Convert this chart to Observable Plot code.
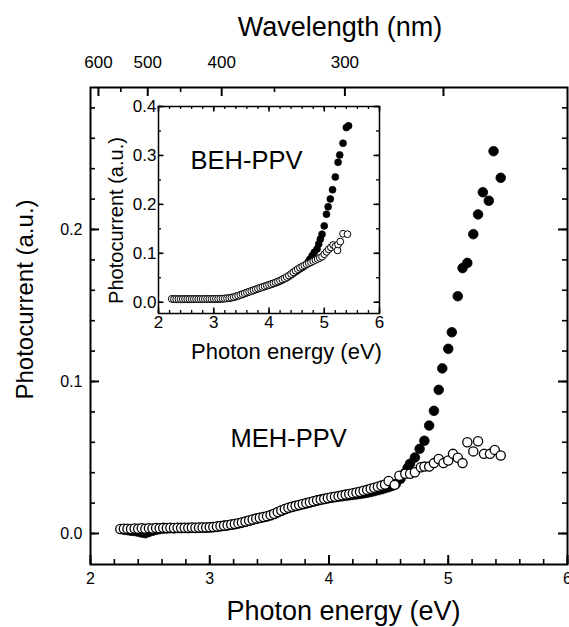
<!DOCTYPE html>
<html><head><meta charset="utf-8">
<script src="https://cdn.jsdelivr.net/npm/d3@7"></script>
<script src="https://cdn.jsdelivr.net/npm/@observablehq/plot@0.6"></script>
<style>
html,body{margin:0;padding:0;background:#fff;}
#wrap{position:relative;width:569px;height:627px;overflow:hidden;background:#fff;}
#wrap svg{position:absolute;}
</style></head><body><div id="wrap"></div>
<script>
// ---- MEH-PPV (main plot) ----
const mehOpenE = [2.25,2.28,2.31,2.34,2.37,2.40,2.43,2.46,2.49,2.52,
 2.55,2.58,2.61,2.64,2.67,2.70,2.73,2.76,2.79,2.82,
 2.85,2.88,2.91,2.94,2.97,3.00,3.03,3.06,3.09,3.12,
 3.15,3.18,3.21,3.24,3.27,3.30,3.33,3.36,3.39,3.42,
 3.45,3.48,3.51,3.54,3.57,3.60,3.63,3.66,3.69,3.72,
 3.75,3.78,3.81,3.84,3.87,3.90,3.93,3.96,3.99,4.02,
 4.05,4.08,4.11,4.14,4.17,4.20,4.23,4.26,4.29,4.32,
 4.35,4.38,4.41,4.44,4.47,4.50,
 4.55,4.59,4.64,4.68,4.72,4.77,4.80,4.84,4.88,4.92,4.96,5.00,5.04,5.08,5.12,5.16,5.21,5.25,5.30,5.35,5.39,5.44];
const mehOpenI = [.0030,.0031,.0032,.0030,.0033,.0031,.0034,.0032,.0035,.0033,
 .0036,.0035,.0037,.0036,.0038,.0036,.0038,.0037,.0038,.0037,
 .0039,.0038,.0039,.0040,.0040,.0041,.0043,.0046,.0049,.0052,
 .0055,.0059,.0063,.0068,.0073,.0079,.0085,.0092,.0098,.0104,
 .0109,.0114,.0121,.0130,.0141,.0151,.0161,.0169,.0176,.0182,
 .0188,.0194,.0200,.0206,.0212,.0218,.0223,.0228,.0233,.0238,
 .0242,.0246,.0251,.0256,.0260,.0265,.0270,.0275,.0281,.0287,
 .0294,.0301,.0308,.0315,.0322,.0345,
 .0320,.0380,.0393,.0393,.0403,.0436,.0440,.0440,.0463,.0490,.0463,.0480,.0524,.0498,.0463,.0600,.0540,.0607,.0524,.0524,.0550,.0513];
const mehFilledE = [2.28,2.31,2.34,2.37,2.40,2.43,2.46,2.49,2.52,2.55,
 2.58,2.61,2.64,2.67,2.70,2.73,2.76,2.79,2.82,2.85,
 2.88,2.91,2.94,2.97,3.00,3.03,3.06,3.09,3.12,3.15,
 3.18,3.21,3.24,3.27,3.30,3.33,3.36,3.39,3.42,3.45,
 3.48,3.51,3.54,3.57,3.60,3.63,3.66,3.69,3.72,3.75,
 3.78,3.81,3.84,3.87,3.90,3.93,3.96,3.99,4.02,4.05,
 4.08,4.11,4.14,4.17,4.20,4.23,4.26,4.29,4.32,4.35,
 4.38,4.41,4.44,4.47,4.50,4.53,4.56,
 4.60,4.64,4.66,4.68,4.72,4.76,4.80,4.84,4.88,4.92,4.95,5.00,5.03,5.08,5.12,5.16,5.21,5.25,5.29,5.34,5.38,5.44];
const mehFilledI = [.0025,.0022,.0018,.0016,.0012,.0006,.0002,.0010,.0018,.0024,
 .0029,.0032,.0033,.0035,.0034,.0036,.0035,.0036,.0035,.0037,
 .0036,.0037,.0038,.0038,.0039,.0041,.0044,.0047,.0050,.0053,
 .0057,.0061,.0066,.0071,.0077,.0083,.0090,.0096,.0102,.0107,
 .0112,.0119,.0128,.0139,.0149,.0159,.0167,.0174,.0180,.0186,
 .0192,.0198,.0204,.0210,.0216,.0221,.0226,.0231,.0235,.0239,
 .0242,.0245,.0248,.0251,.0254,.0257,.0260,.0264,.0268,.0273,
 .0279,.0285,.0291,.0298,.0305,.0313,.0325,
 .0360,.0400,.0432,.0459,.0500,.0557,.0610,.0710,.0807,.0945,.1086,.1215,.1324,.1561,.1746,.1780,.1969,.2099,.2245,.2189,.2515,.2340];

// ---- BEH-PPV (inset) ----
const behOpenE = [2.24,
 2.28,2.32,2.36,2.40,2.44,2.48,2.52,2.56,2.60,2.64,
 2.68,2.72,2.76,2.80,2.84,2.88,2.92,2.96,3.00,3.04,
 3.08,3.12,3.16,3.20,3.24,3.28,3.32,3.36,3.40,3.44,
 3.48,3.52,3.56,3.60,3.64,3.68,3.72,3.76,3.80,3.84,
 3.88,3.92,3.96,4.00,4.04,4.08,4.12,4.16,4.20,4.24,
 4.28,4.32,4.36,4.40,4.44,4.48,4.52,4.56,4.60,4.64,
 4.68,4.72,4.76,
 4.80,4.84,4.88,4.92,4.96,5.00,5.04,5.08,5.12,5.16,5.20,5.24,5.25,5.29,5.34,5.42];
const behOpenI = [.0069,
 .0064,.0063,.0064,.0063,.0064,.0064,.0065,.0064,.0065,.0065,
 .0066,.0065,.0066,.0066,.0067,.0067,.0068,.0068,.0069,.0070,
 .0071,.0072,.0074,.0077,.0081,.0087,.0095,.0105,.0118,.0133,
 .0149,.0165,.0182,.0199,.0215,.0231,.0247,.0263,.0279,.0295,
 .0310,.0325,.0340,.0355,.0371,.0387,.0404,.0423,.0443,.0465,
 .0489,.0516,.0545,.0577,.0611,.0645,.0677,.0705,.0730,.0753,
 .0775,.0796,.0816,
 .0840,.0862,.0884,.0905,.0930,.0980,.1030,.1080,.1120,.1170,.1140,.1060,.1180,.1240,.1400,.1390];
const behFilledE = [2.28,2.32,2.36,2.40,2.44,2.48,2.52,2.56,2.60,2.64,
 2.68,2.72,2.76,2.80,2.84,2.88,2.92,2.96,3.00,3.04,
 3.08,3.12,3.16,3.20,3.24,3.28,3.32,3.36,3.40,3.44,
 3.48,3.52,3.56,3.60,3.64,3.68,3.72,3.76,3.80,3.84,
 3.88,3.92,3.96,4.00,4.04,4.08,4.12,4.16,4.20,4.24,
 4.28,4.32,4.36,4.40,4.44,4.48,4.52,4.56,4.60,4.64,
 4.68,
 4.71,4.74,4.78,4.82,4.87,4.90,4.93,4.96,5.00,5.04,5.07,5.11,5.15,5.20,5.25,5.28,5.34,5.40,5.44];
const behFilledI = [.0061,.0060,.0061,.0060,.0061,.0061,.0062,.0061,.0062,.0062,
 .0063,.0062,.0063,.0063,.0064,.0064,.0065,.0065,.0066,.0067,
 .0068,.0069,.0071,.0074,.0078,.0084,.0092,.0102,.0115,.0130,
 .0146,.0162,.0179,.0196,.0212,.0228,.0244,.0260,.0276,.0292,
 .0307,.0322,.0337,.0352,.0367,.0382,.0398,.0416,.0435,.0456,
 .0478,.0503,.0530,.0560,.0592,.0625,.0656,.0684,.0712,.0742,
 .0776,
 .0820,.0880,.0950,.1020,.1090,.1190,.1290,.1390,.1560,.1800,.1950,.2110,.2300,.2560,.2860,.3010,.3250,.3570,.3605];

// ---- axes ----
const energyTicks = [2, 3, 4, 5, 6];
const mainYTicks = [0, 0.1, 0.2];
const insetYTicks = [0, 0.1, 0.2, 0.3, 0.4];
const wlLabelled = [600, 500, 400, 300];
const wlMajor = [600, 500, 400, 300, 250];
const wlMinor = [550, 450, 350];

const FONT = '"Liberation Sans", Arial, Helvetica, sans-serif';
const ev = (w) => 1240 / w;

// inward tick marks as short rules; their length (px) is converted to data units of the other scale
function inwardTicks(xDom, yDom, fw, fh) {
  const ky = (yDom[1] - yDom[0]) / fh, kx = (xDom[1] - xDom[0]) / fw;
  return {
    bottom: (t, L, sw) => Plot.ruleX(t, {x: d => d, y1: () => yDom[0], y2: () => yDom[0] + L * ky, stroke: "#000", strokeWidth: sw}),
    top: (t, L, sw) => Plot.ruleX(t, {x: d => d, y1: () => yDom[1], y2: () => yDom[1] - L * ky, stroke: "#000", strokeWidth: sw}),
    left: (t, L, sw) => Plot.ruleY(t, {y: d => d, x1: () => xDom[0], x2: () => xDom[0] + L * kx, stroke: "#000", strokeWidth: sw}),
    right: (t, L, sw) => Plot.ruleY(t, {y: d => d, x1: () => xDom[1], x2: () => xDom[1] - L * kx, stroke: "#000", strokeWidth: sw})
  };
}

const M = {width: 569, height: 627, left: 90, right: 2, top: 87, bottom: 63};
const mX = [2, 6], mY = [-0.0204, 0.2934];
const mt = inwardTicks(mX, mY, M.width - M.left - M.right, M.height - M.top - M.bottom);
const mainMinorX = d3.range(2, 6.0001, 0.2);
const mainMinorY = d3.range(0, 0.2901, 0.02);

const main = Plot.plot({
  width: M.width, height: M.height,
  marginLeft: M.left, marginRight: M.right, marginTop: M.top, marginBottom: M.bottom,
  style: {fontFamily: FONT, background: "white", color: "black"},
  x: {domain: mX},
  y: {domain: mY},
  marks: [
    Plot.axisX({anchor: "bottom", ticks: energyTicks, tickSize: 0, tickPadding: 8, fontSize: 16, tickFormat: d => String(d)}),
    Plot.axisX({anchor: "top", ticks: wlLabelled.map(ev), tickSize: 0, tickPadding: 20, fontSize: 17, tickFormat: d => String(Math.round(1240 / d))}),
    Plot.axisY({anchor: "left", ticks: mainYTicks, tickSize: 0, tickPadding: 8, fontSize: 16, tickFormat: d3.format(".1f")}),
    Plot.dot(mehFilledE, {x: mehFilledE, y: mehFilledI, r: 4.8, fill: "black", stroke: "black", strokeWidth: 0.8}),
    Plot.dot(mehOpenE, {x: mehOpenE, y: mehOpenI, r: 4.6, fill: "white", stroke: "black", strokeWidth: 1.3}),
    Plot.frame({stroke: "black", strokeWidth: 2}),
    mt.bottom(mainMinorX, 5, 1.6), mt.bottom(energyTicks, 9, 2),
    mt.top(wlMinor.map(ev), 5, 1.6), mt.top(wlMajor.map(ev), 9, 2),
    mt.left(mainMinorY, 5, 1.6), mt.left(mainYTicks, 9, 2),
    mt.right(mainMinorY, 5, 1.6), mt.right(mainYTicks, 9, 2),
    Plot.text(["MEH-PPV"], {text: d => d, frameAnchor: "top-left", textAnchor: "start", lineAnchor: "middle", dx: 140, dy: 351, fontSize: 25.5, fill: "black"}),
    Plot.text(["Photon energy (eV)"], {text: d => d, frameAnchor: "bottom", textAnchor: "middle", lineAnchor: "middle", dx: 14.5, dy: 46.5, fontSize: 27, fill: "black"}),
    Plot.text(["Wavelength (nm)"], {text: d => d, frameAnchor: "top", textAnchor: "middle", lineAnchor: "middle", dx: 11, dy: -60.5, fontSize: 27, fill: "black"}),
    Plot.text(["Photocurrent (a.u.)"], {text: d => d, frameAnchor: "left", textAnchor: "middle", lineAnchor: "middle", rotate: -90, dx: -65, dy: -26.5, fontSize: 24, fill: "black"})
  ]
});

const I = {width: 290, height: 300, left: 63, right: 6, top: 26, bottom: 67};
const iX = [2, 6], iY = [-0.023, 0.4];
const itk = inwardTicks(iX, iY, I.width - I.left - I.right, I.height - I.top - I.bottom);
const insetMinorX = d3.range(2, 6.0001, 0.2);
const insetMinorY = d3.range(0, 0.4001, 0.05);

const inset = Plot.plot({
  width: I.width, height: I.height,
  marginLeft: I.left, marginRight: I.right, marginTop: I.top, marginBottom: I.bottom,
  style: {fontFamily: FONT, background: "transparent", color: "black"},
  x: {domain: iX},
  y: {domain: iY},
  marks: [
    Plot.axisX({anchor: "bottom", ticks: energyTicks, tickSize: 0, tickPadding: 2, fontSize: 17, tickFormat: d => String(d)}),
    Plot.axisY({anchor: "left", ticks: insetYTicks, tickSize: 0, tickPadding: 2, fontSize: 17, tickFormat: d3.format(".1f")}),
    Plot.dot(behFilledE, {x: behFilledE, y: behFilledI, r: 3.5, fill: "black", stroke: "black", strokeWidth: 0.6}),
    Plot.dot(behOpenE, {x: behOpenE, y: behOpenI, r: 3.4, fill: "white", stroke: "black", strokeWidth: 1}),
    Plot.frame({stroke: "black", strokeWidth: 1.5}),
    itk.bottom(insetMinorX, 3, 1.3), itk.bottom(energyTicks, 5.5, 1.6),
    itk.top(insetMinorX, 3, 1.3), itk.top(energyTicks, 5.5, 1.6),
    itk.left(insetMinorY, 3, 1.3), itk.left(insetYTicks, 5.5, 1.6),
    itk.right(insetMinorY, 3, 1.3), itk.right(insetYTicks, 5.5, 1.6),
    Plot.text(["BEH-PPV"], {text: d => d, frameAnchor: "top-left", textAnchor: "start", lineAnchor: "middle", dx: 32, dy: 54, fontSize: 25.5, fill: "black"}),
    Plot.text(["Photon energy (eV)"], {text: d => d, frameAnchor: "bottom", textAnchor: "middle", lineAnchor: "middle", dx: 17.5, dy: 38, fontSize: 22, fill: "black"}),
    Plot.text(["Photocurrent (a.u.)"], {text: d => d, frameAnchor: "left", textAnchor: "middle", lineAnchor: "middle", rotate: -90, dx: -42, dy: 10.5, fontSize: 20, fill: "black"})
  ]
});

const wrap = document.getElementById("wrap");
main.style.left = "0px"; main.style.top = "0px";
wrap.appendChild(main);
inset.style.left = "95px"; inset.style.top = "80px";
wrap.appendChild(inset);
</script>
</body></html>
